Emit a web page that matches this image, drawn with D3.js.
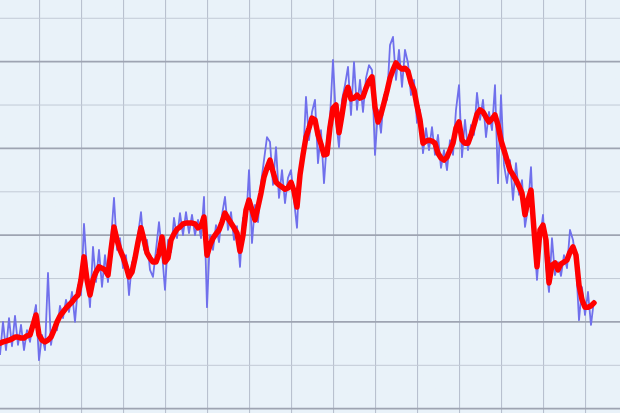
<!DOCTYPE html>
<html>
<head>
<meta charset="utf-8">
<script src="https://cdn.jsdelivr.net/npm/d3@7"></script>
<style>
html,body{margin:0;padding:0;background:#e8f1f8;}
svg{display:block;}
</style>
</head>
<body>
<svg id="chart" width="620" height="413"></svg>
<script>
// Daily index values (noisy raw series)
const rawValues = [12.4,20.0,13.5,20.9,14.4,21.4,14.7,19.3,13.5,18.1,15.4,20.4,23.9,11.2,17.0,13.5,31.3,14.7,19.3,18.1,
23.7,20.9,25.1,22.3,26.9,20.0,28.5,26.2,42.6,32.0,23.4,37.3,29.2,36.6,28.1,35.4,29.2,38.9,48.6,36.6,
39.3,32.4,35.4,26.2,33.8,33.1,40.0,45.3,36.6,38.9,32.0,30.4,36.6,43.0,36.1,27.4,38.9,36.1,44.0,39.3,
45.1,40.0,45.3,40.5,44.7,40.0,43.5,39.3,48.8,23.4,40.0,36.6,42.3,38.4,44.7,48.8,41.2,45.3,38.9,42.1,
32.7,44.0,42.3,55.0,38.2,47.0,43.0,52.0,57.3,62.6,61.5,51.6,60.3,48.6,55.0,47.4,53.2,55.0,48.1,41.7,
56.2,56.9,71.9,61.9,68.4,71.2,56.6,64.2,52.0,61.9,67.0,80.4,66.6,60.3,71.2,74.6,78.8,67.7,79.9,68.9,
75.8,68.4,76.2,79.2,78.1,58.5,68.9,63.6,72.3,71.2,83.8,85.7,75.8,82.7,74.2,82.7,79.7,72.3,75.8,65.9,
68.9,58.9,64.7,59.6,64.9,58.5,63.1,55.5,59.6,55.0,61.9,58.5,68.9,74.6,58.0,66.6,59.6,65.4,63.1,72.8,
66.6,71.2,62.6,68.4,64.2,74.6,52.0,72.3,56.2,52.0,57.3,48.1,56.6,49.3,52.7,41.9,46.3,55.7,40.0,29.7,
38.9,44.7,33.1,26.9,39.3,30.8,33.8,30.6,35.4,32.4,41.2,38.9,33.8,20.4,28.0,21.6,26.9,19.3,25.1];

// Smoothed trend series
const trendValues = [15.1,15.4,15.6,15.8,16.1,16.5,16.5,16.3,16.3,16.8,17.0,19.3,21.6,17.0,15.8,15.4,15.8,16.5,18.1,20.0,
21.4,22.3,23.2,23.9,24.6,25.5,26.2,29.7,35.0,29.7,26.2,29.7,31.5,32.7,32.4,32.0,30.8,36.6,41.9,38.9,
36.6,35.0,32.9,30.4,31.5,34.7,38.4,41.7,38.9,35.9,34.7,33.8,33.8,35.7,39.6,33.8,34.7,38.9,40.3,41.4,
41.9,42.6,42.8,42.8,42.8,42.6,41.7,42.1,44.2,35.4,37.7,39.3,40.3,41.2,43.0,45.1,43.9,42.8,41.7,40.5,
36.3,40.0,45.8,48.1,45.8,43.5,46.5,49.7,53.4,55.5,57.3,54.6,52.2,51.6,51.1,50.6,50.9,52.2,50.2,46.5,
53.9,58.5,62.6,64.7,67.0,66.6,63.1,61.0,58.5,58.7,64.9,69.3,70.0,63.6,67.7,72.1,74.1,71.4,71.6,72.3,
71.6,71.9,73.9,75.5,76.5,69.5,66.1,67.9,70.5,73.2,76.2,78.1,79.7,78.8,78.3,78.5,77.8,75.1,73.5,69.8,
66.6,61.2,61.7,61.9,61.7,61.2,58.9,57.8,57.3,58.0,59.6,61.2,64.7,66.1,61.9,61.2,61.2,63.1,65.4,67.9,
68.9,68.4,67.2,66.1,66.8,67.7,65.4,61.9,59.6,57.3,55.0,53.9,52.7,51.3,49.7,44.7,48.1,50.4,41.2,32.7,
41.2,42.3,38.9,29.0,33.1,33.6,32.0,33.4,33.8,34.3,36.1,37.3,35.4,28.5,25.1,23.4,23.4,23.7,24.4];

// Grid positions (days / index levels)
const xGridDays = d3.range(-0.8, 207, 14);
const yGridLevels = d3.range(0, 100, 10);

const W = 620, H = 413;
const svg = d3.select('#chart');

const x = d3.scaleLinear().domain([0, 206.67]).range([0, W]);
const y = d3.scaleLinear().domain([0, 95]).range([408.7, 408.7 - 95 * 4.338]);

// paper-like textured background
const defs = svg.append('defs');
const f = defs.append('filter').attr('id', 'tex').attr('x', 0).attr('y', 0).attr('width', 1).attr('height', 1);
f.append('feTurbulence').attr('type', 'fractalNoise').attr('baseFrequency', 0.6).attr('numOctaves', 2).attr('seed', 3).attr('result', 'n');
f.append('feColorMatrix').attr('in', 'n').attr('type', 'matrix')
  .attr('values', '0 0 0 0 0.80  0 0 0 0 0.86  0 0 0 0 0.94  0 0 0 0.18 0');
svg.append('rect').attr('width', W).attr('height', H).attr('fill', '#e9f2f9');
svg.append('rect').attr('width', W).attr('height', H).attr('filter', 'url(#tex)');

// vertical grid
svg.append('g').selectAll('line').data(xGridDays).join('line')
  .attr('x1', d => x(d)).attr('x2', d => x(d))
  .attr('y1', 0).attr('y2', H)
  .attr('stroke', '#b4bccb').attr('stroke-width', 1);

// horizontal grid
svg.append('g').selectAll('line').data(yGridLevels).join('line')
  .attr('x1', 0).attr('x2', W)
  .attr('y1', d => y(d)).attr('y2', d => y(d))
  .attr('stroke', d => d % 20 === 0 ? '#9ea4b2' : '#c2cad6')
  .attr('stroke-width', d => d % 20 === 0 ? 1.8 : 1);

const line = d3.line().x((d, i) => x(i)).y(d => y(d));

svg.append('path').datum(rawValues)
  .attr('d', line)
  .attr('fill', 'none')
  .attr('stroke', '#7070ec')
  .attr('stroke-width', 1.8)
  .attr('stroke-linejoin', 'round');

svg.append('path').datum(trendValues)
  .attr('d', line)
  .attr('fill', 'none')
  .attr('stroke', '#ff0000')
  .attr('stroke-width', 5.5)
  .attr('stroke-linejoin', 'round')
  .attr('stroke-linecap', 'round');
</script>
</body>
</html>
